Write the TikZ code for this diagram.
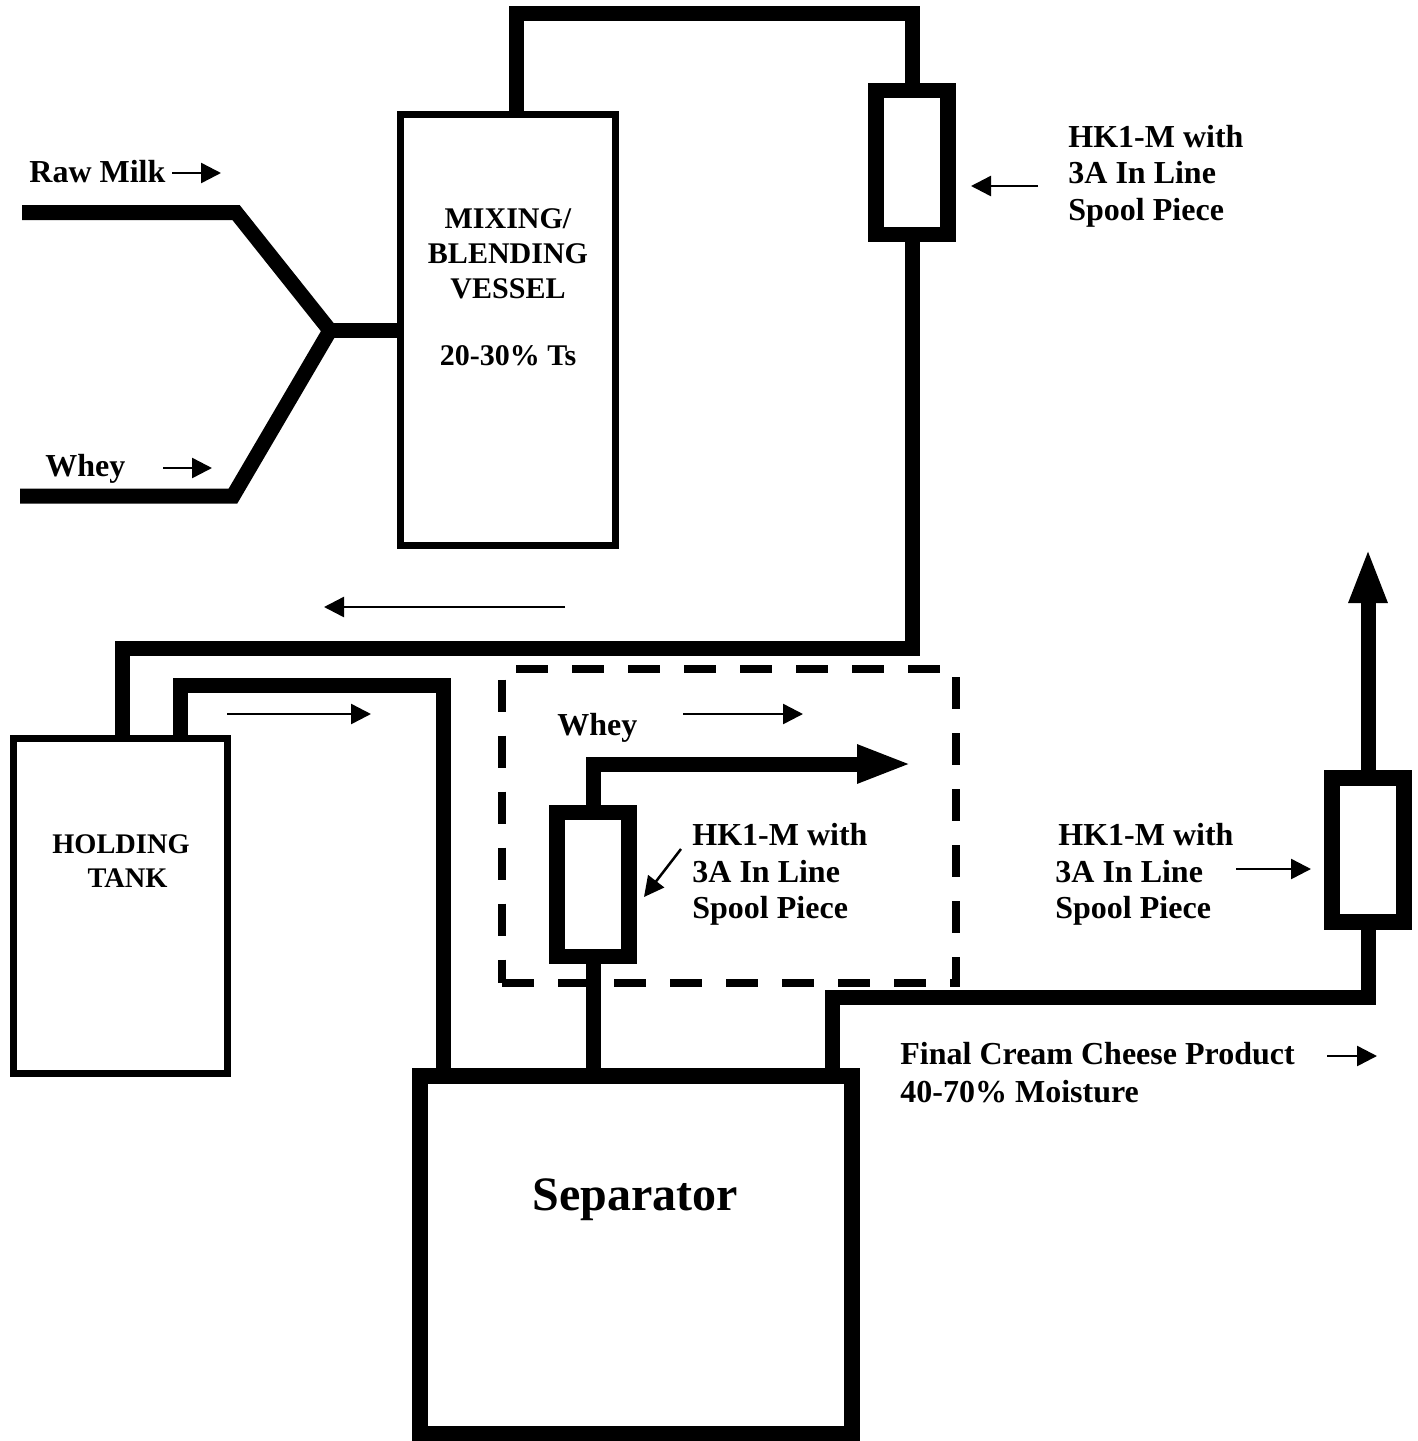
\documentclass[tikz,border=0pt]{standalone}
\usepackage{fontspec}
\setmainfont{Liberation Serif}
\usetikzlibrary{arrows.meta}
\begin{document}
\begin{tikzpicture}[x=0.5pt,y=-0.5pt,
  pipe/.style={line width=7.5pt, line join=miter, line cap=butt},
  vesselbox/.style={draw, line width=3.5pt, inner sep=0pt},
  spoolbox/.style={draw, line width=7.75pt, inner sep=0pt, minimum width=36pt, minimum height=72pt},
  sepbox/.style={draw, line width=8pt, inner sep=0pt},
  dashbox/.style={draw, line width=4pt, dash pattern=on 16pt off 12pt, inner sep=0pt},
  thinarrow/.style={line width=1.25pt, -{Triangle[length=10pt,width=10pt]}},
  bigarrow/.style={pipe, -{Triangle[length=27.5pt,width=17.5pt]}},
  txt/.style={font=\fontsize{16}{19}\selectfont\bfseries, inner sep=0pt, anchor=base west},
  vtxt/.style={font=\fontsize{15}{18}\selectfont\bfseries, inner sep=0pt, anchor=base},
  htxt/.style={font=\fontsize{14.2}{17}\selectfont\bfseries, inner sep=0pt, anchor=base}
]
\useasboundingbox (0,0) rectangle (1418,1441);

% equipment
\node[vesselbox, minimum width=107.5pt, minimum height=215.5pt] (vessel) at (508,330) {};
\node[vesselbox, minimum width=107pt, minimum height=167.5pt] (holding) at (120.5,906) {};
\node[sepbox, minimum width=216pt, minimum height=179pt] (separator) at (636,1254.5) {};
\node[spoolbox] (spool1) at (912,162.5) {};
\node[spoolbox] (spool2) at (593,884.5) {};
\node[spoolbox] (spool3) at (1368,850) {};
\node[dashbox, minimum width=227pt, minimum height=156.75pt] (zone) at (729,825.75) {};

% inlet lines
\coordinate (rawin) at (22,212.5);
\coordinate (rawbend) at (236,212.5);
\coordinate (wheyin) at (20,496);
\coordinate (wheybend) at (233,496);
\coordinate (junction) at (330,330.5);
\draw[pipe] (rawin) -- (rawbend) -- (junction);
\draw[pipe] (wheyin) -- (wheybend) -- (junction);
\draw[pipe] ([xshift=-2pt]junction) -- (vessel.west |- junction);

% pipes
\draw[pipe] ([xshift=4pt]vessel.north) -- ++(0,-97.5) -| (spool1.north);
\draw[pipe] (spool1.south) -- ++(0,406) -| ([xshift=1pt]holding.north);
\draw[pipe] ([xshift=29.75pt]holding.north) -- ++(0,-49.5) -| ([xshift=-96.5pt]separator.north);
\draw[pipe] (spool2.south) -- (spool2.south |- separator.north);
\coordinate (wheytip) at (912,764);
\draw[bigarrow] (spool2.north) |- (wheytip);
\draw[pipe] ([xshift=98pt]separator.north) -- ++(0,-70) -| (spool3.south);
\coordinate (prodtip) at (1368,548);
\draw[bigarrow] (spool3.north) -- (spool3.north |- prodtip);

% labels
\node[txt] (lraw) at (29,182) {Raw Milk};
\node[txt] (lwhey) at (45,476) {Whey};
\node[vtxt] (lv1) at (508,228) {MIXING/};
\node[vtxt] (lv2) at (508,263) {BLENDING};
\node[vtxt] (lv3) at (508,298) {VESSEL};
\node[vtxt] (lv4) at (508,365) {20-30\% Ts};
\node[txt] (la1) at (1068,147) {HK1-M with};
\node[txt] (la2) at (1068,183) {3A In Line};
\node[txt] (la3) at (1068,220) {Spool Piece};
\node[htxt] (lh1) at (121,853) {HOLDING};
\node[htxt] (lh2) at (127.5,887) {TANK};
\node[txt] (lwhey2) at (557,735) {Whey};
\node[txt] (lb1) at (692,845) {HK1-M with};
\node[txt] (lb2) at (692,882) {3A In Line};
\node[txt] (lb3) at (692,918) {Spool Piece};
\node[txt] (lc1) at (1058,845) {HK1-M with};
\node[txt] (lc2) at (1055,882) {3A In Line};
\node[txt] (lc3) at (1055,918) {Spool Piece};
\node[txt] (lf1) at (900,1064) {Final Cream Cheese Product};
\node[txt] (lf2) at (900,1102) {40-70\% Moisture};
\node[anchor=base, inner sep=0pt, font=\fontsize{24}{28}\selectfont\bfseries] (lsep) at (635,1210) {Separator};

% thin arrows
\coordinate (a1s) at (172,173); \coordinate (a1e) at (221,173);
\draw[thinarrow] (a1s) -- (a1e);
\coordinate (a2s) at (163,468); \coordinate (a2e) at (212,468);
\draw[thinarrow] (a2s) -- (a2e);
\coordinate (a3s) at (1038,186); \coordinate (a3e) at (971,186);
\draw[thinarrow] (a3s) -- (a3e);
\coordinate (a4s) at (565,607); \coordinate (a4e) at (324,607);
\draw[thinarrow] (a4s) -- (a4e);
\coordinate (a5s) at (227,714); \coordinate (a5e) at (371,714);
\draw[thinarrow] (a5s) -- (a5e);
\coordinate (a6s) at (683,714); \coordinate (a6e) at (803,714);
\draw[thinarrow] (a6s) -- (a6e);
\coordinate (a7s) at (681,849); \coordinate (a7e) at (644,897);
\draw[thinarrow] (a7s) -- (a7e);
\coordinate (a8s) at (1236,869); \coordinate (a8e) at (1311,869);
\draw[thinarrow] (a8s) -- (a8e);
\coordinate (a9s) at (1327,1056); \coordinate (a9e) at (1377,1056);
\draw[thinarrow] (a9s) -- (a9e);
\end{tikzpicture}
\end{document}
